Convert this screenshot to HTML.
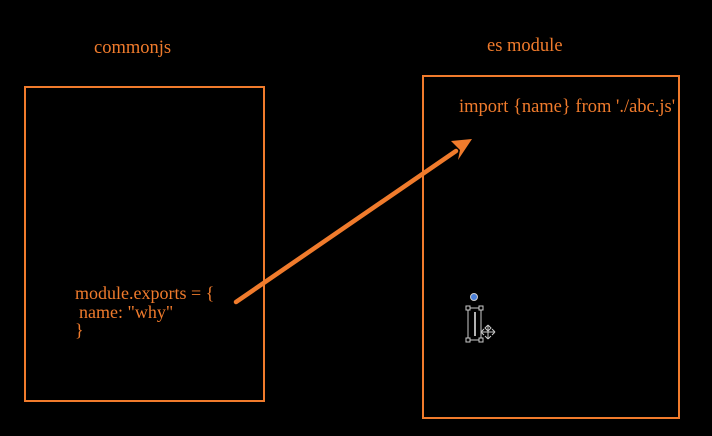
<!DOCTYPE html>
<html><head><style>
body{margin:0;background:#000;width:712px;height:436px;overflow:hidden;font-family:"Liberation Serif",serif;}
</style></head><body>
<svg width="712" height="436" xmlns="http://www.w3.org/2000/svg" style="position:absolute;left:0;top:0">
<rect width="712" height="436" fill="#000"/>
<rect x="25" y="87" width="239" height="314" fill="none" stroke="#f07b2c" stroke-width="2"/>
<rect x="423" y="76" width="256" height="342" fill="none" stroke="#f07b2c" stroke-width="2"/>
<g fill="#f07b2c" font-family="Liberation Serif, serif" font-size="18.5">
<text x="94" y="53">commonjs</text>
<text x="487" y="51">es module</text>
<text x="459" y="112">import {name} from './abc.js'</text>
</g>
<g fill="#f07b2c" font-family="Liberation Serif, serif" font-size="18">
<text x="75" y="299">module.exports = {</text>
<text x="79" y="318">name: "why"</text>
<text x="75" y="336">}</text>
</g>
<line x1="236" y1="302" x2="456" y2="151" stroke="#f07b2c" stroke-width="4.5" stroke-linecap="round"/>
<polygon points="472,139 451,141 460,150 458,160" fill="#f07b2c"/>
<circle cx="474" cy="297" r="3.5" fill="#4a7fd8" stroke="#ccc" stroke-width="1"/>
<rect x="468" y="308" width="13" height="32" fill="none" stroke="#ccc" stroke-width="1"/>
<line x1="475" y1="312" x2="475" y2="336" stroke="#eee" stroke-width="1.5"/>
<g fill="#000" stroke="#ccc" stroke-width="1">
<rect x="466" y="306" width="4" height="4"/><rect x="479" y="306" width="4" height="4"/>
<rect x="466" y="338" width="4" height="4"/><rect x="479" y="338" width="4" height="4"/>
</g>
<g stroke="#ccc" stroke-width="1" fill="none">
<path d="M488 325 l-3 3 3 3 M488 325 l3 3 -3 3 M482 332 h12 M488 326 v13 M481 332 l3 -3 M495 332 l-3 -3 M481 332 l3 3 M495 332 l-3 3 M488 339 l-3 -3 M488 339 l3 -3"/>
</g>
</svg>
</body></html>
